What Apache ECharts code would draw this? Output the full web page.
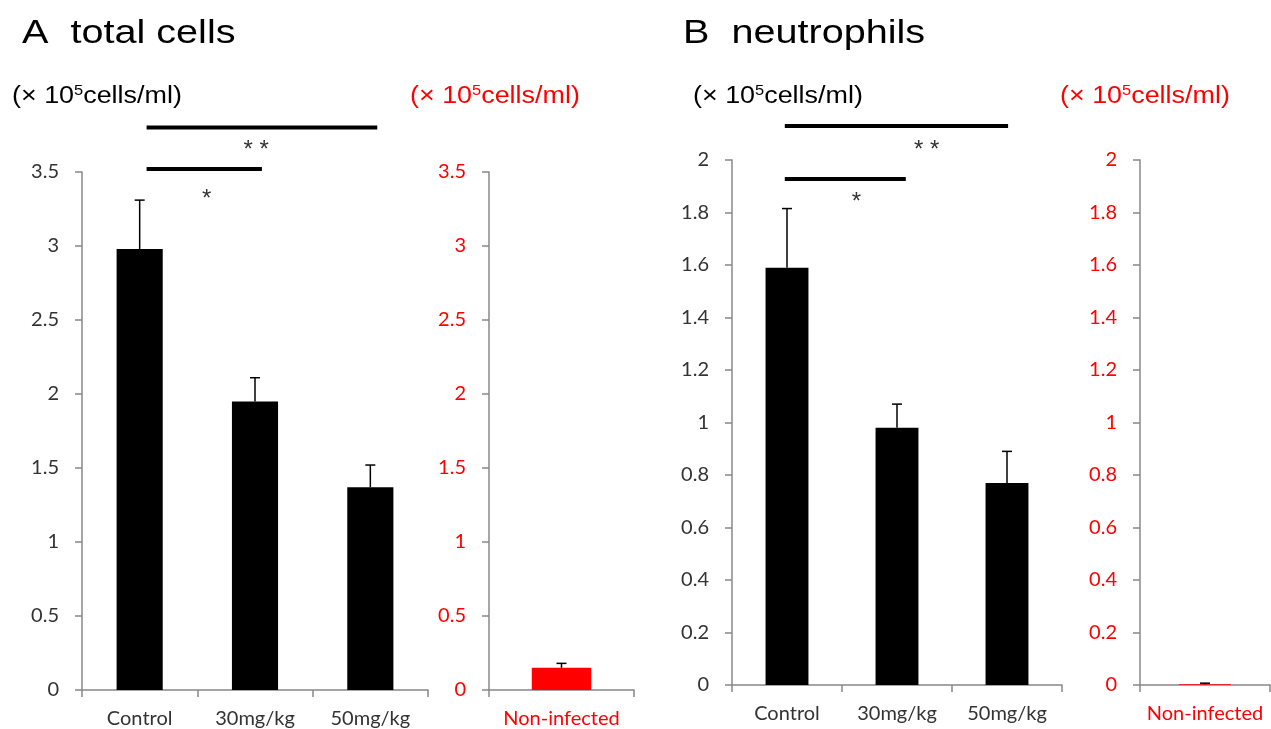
<!DOCTYPE html>
<html>
<head>
<meta charset="utf-8">
<script src="https://cdn.jsdelivr.net/npm/echarts@6/dist/echarts.min.js"></script>
<style>
html,body{margin:0;padding:0;background:#fff;}
#main{width:1271px;height:729px;}
</style>
</head>
<body>
<div id="main"></div>
<script>
// ---- data ----
const categories = ['Control', '30mg/kg', '50mg/kg'];
const nonInfCategory = ['Non-infected'];
const totalMean = [2.98, 1.95, 1.37];
const totalErr = [0.33, 0.16, 0.15];
const totalNonInfMean = [0.15];
const totalNonInfErr = [0.03];
const neutMean = [1.59, 0.98, 0.77];
const neutErr = [0.225, 0.09, 0.12];
const neutNonInfMean = [0.003];
const neutNonInfErr = [0.004];
const totalAxisMax = 3.5, totalAxisStep = 0.5;
const neutAxisMax = 2, neutAxisStep = 0.2;
const titleA = 'A  total cells';
const titleB = 'B  neutrophils';
// significance annotations: from/to in category units, y in data units
const sigA = [
  {from: 0.06, to: 2.06, y: 3.80, labelX: 1.01, labelY: 3.68, text: '* *'},
  {from: 0.06, to: 1.06, y: 3.52, labelX: 0.58, labelY: 3.35, text: '*'}
];
const sigB = [
  {from: -0.02, to: 2.01, y: 2.13, labelX: 1.27, labelY: 2.057, text: '* *'},
  {from: -0.02, to: 1.08, y: 1.928, labelX: 0.63, labelY: 1.859, text: '*'}
];

const FONT = 'Lato';
const AX = '#888';
const RED = '#ff0000';

function xAxisCfg(gi, data, color) {
  return {
    type: 'category', gridIndex: gi, data: data,
    axisLine: {lineStyle: {color: AX, width: 1.5}},
    axisTick: {show: true, length: 7, lineStyle: {color: AX, width: 1.5}},
    axisLabel: {color: color, fontFamily: FONT, fontSize: 20, margin: 19}
  };
}
function yAxisCfg(gi, max, step, color) {
  return {
    type: 'value', gridIndex: gi, min: 0, max: max, interval: step,
    splitLine: {show: false},
    axisLine: {show: true, lineStyle: {color: AX, width: 1.5}},
    axisTick: {show: true, length: 7, lineStyle: {color: AX, width: 1.5}},
    axisLabel: {color: color, fontFamily: FONT, fontSize: 20, margin: 23}
  };
}
function errRender(params, api) {
  const x = api.value(0), m = api.value(1), e = api.value(2);
  const p0 = api.coord([x, m]);
  const p1 = api.coord([x, m + e]);
  const st = {stroke: '#000', lineWidth: 1.5};
  return {type: 'group', children: [
    {type: 'line', shape: {x1: p0[0], y1: p0[1], x2: p1[0], y2: p1[1]}, style: st},
    {type: 'line', shape: {x1: p1[0] - 5, y1: p1[1], x2: p1[0] + 5, y2: p1[1]}, style: st}
  ]};
}
function errData(means, errs) {
  return means.map((m, i) => [i, m, errs[i]]);
}
function barSeries(gi, vals, color, width) {
  return {type: 'bar', xAxisIndex: gi, yAxisIndex: gi, data: vals, barWidth: width,
    itemStyle: {color: color}, silent: true, animation: false};
}
function errSeries(gi, means, errs) {
  return {type: 'custom', xAxisIndex: gi, yAxisIndex: gi, data: errData(means, errs),
    renderItem: errRender, encode: {x: 0, y: 1}, z: 5, silent: true, animation: false};
}

const chart = echarts.init(document.getElementById('main'));
chart.setOption({
  backgroundColor: '#fff',
  animation: false,
  grid: [
    {left: 82, width: 346, top: 172, bottom: 38},
    {left: 489, width: 145, top: 172, bottom: 38},
    {left: 732, width: 330, top: 160, bottom: 44},
    {left: 1140, width: 130, top: 160, bottom: 44}
  ],
  xAxis: [
    xAxisCfg(0, categories, '#333'),
    xAxisCfg(1, nonInfCategory, RED),
    xAxisCfg(2, categories, '#333'),
    xAxisCfg(3, nonInfCategory, RED)
  ],
  yAxis: [
    yAxisCfg(0, totalAxisMax, totalAxisStep, '#333'),
    yAxisCfg(1, totalAxisMax, totalAxisStep, RED),
    yAxisCfg(2, neutAxisMax, neutAxisStep, '#333'),
    yAxisCfg(3, neutAxisMax, neutAxisStep, RED)
  ],
  series: [
    barSeries(0, totalMean, '#000', '40%'),
    errSeries(0, totalMean, totalErr),
    barSeries(1, totalNonInfMean, RED, '41%'),
    errSeries(1, totalNonInfMean, totalNonInfErr),
    barSeries(2, neutMean, '#000', '39%'),
    errSeries(2, neutMean, neutErr),
    barSeries(3, neutNonInfMean, RED, '40%'),
    errSeries(3, neutNonInfMean, neutNonInfErr)
  ]
});

// ---- annotations (titles, units, significance) ----
function unitText(x, y, color) {
  return {
    type: 'text', x: x, y: y, scaleX: 1.17, silent: true,
    style: {
      text: '{a|(× 10}{s|5}{a|cells/ml)}',
      fill: color, verticalAlign: 'middle', align: 'left',
      rich: {
        a: {fontFamily: 'Liberation Sans', fontSize: 23, fill: color, lineHeight: 26},
        s: {fontFamily: 'Liberation Sans', fontSize: 14, fill: color, verticalAlign: 'top', lineHeight: 26}
      }
    }
  };
}
function titleText(x, y, txt) {
  return {
    type: 'text', x: x, y: y, scaleX: 1.2, silent: true,
    style: {text: txt, fill: '#000', fontFamily: 'Liberation Sans', fontSize: 33,
      verticalAlign: 'middle', align: 'left'}
  };
}
function sigGraphics(gi, sig) {
  const out = [];
  const c0 = chart.convertToPixel({gridIndex: gi}, [0, 0]);
  const c1 = chart.convertToPixel({gridIndex: gi}, [1, 0]);
  const band = c1[0] - c0[0];
  sig.forEach(s => {
    const py = chart.convertToPixel({gridIndex: gi}, [0, s.y])[1];
    const ly = chart.convertToPixel({gridIndex: gi}, [0, s.labelY])[1];
    out.push({type: 'line', silent: true,
      shape: {x1: c0[0] + s.from * band, y1: py, x2: c0[0] + s.to * band, y2: py},
      style: {stroke: '#000', lineWidth: 4}});
    out.push({type: 'text', silent: true, x: c0[0] + s.labelX * band, y: ly + 5,
      style: {text: s.text, fill: '#333', fontFamily: 'Liberation Sans', fontSize: 24,
        align: 'center', verticalAlign: 'middle'}});
  });
  return out;
}

chart.setOption({
  graphic: [
    titleText(22, 34, titleA),
    titleText(683, 34, titleB),
    unitText(12, 97, '#000'),
    unitText(410, 97, RED),
    unitText(693, 97, '#000'),
    unitText(1060, 97, RED)
  ].concat(sigGraphics(0, sigA)).concat(sigGraphics(2, sigB))
});
</script>
</body>
</html>
